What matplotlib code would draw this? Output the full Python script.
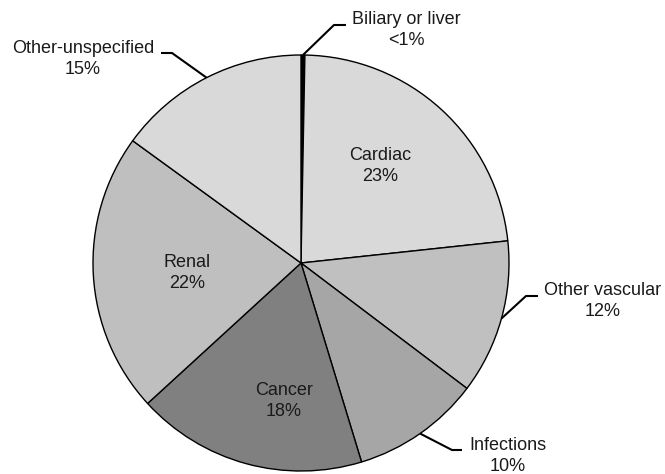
import numpy as np
import matplotlib.pyplot as plt

# Causes of death shares (%), clockwise from 12 o'clock
categories = ['Biliary or liver', 'Cardiac', 'Other vascular', 'Infections',
              'Cancer', 'Renal', 'Other-unspecified']
shares = [0.3, 23.0, 12.0, 10.0, 17.9, 21.8, 15.0]
pct_labels = ['<1%', '23%', '12%', '10%', '18%', '22%', '15%']
colors = ['#000000', '#d9d9d9', '#c0c0c0', '#a6a6a6', '#808080', '#bfbfbf', '#d9d9d9']

plt.rcParams['font.family'] = ['Liberation Sans', 'DejaVu Sans']

W, H = 665, 474


def px(x, y):
    # pixel position (top-left origin) -> data coords
    return x, H - y


fig = plt.figure(figsize=(W / 100, H / 100), dpi=100)
ax = fig.add_axes([0, 0, 1, 1])

cx, cy = px(301, 263)
r = 208
wedges, _ = ax.pie(shares, colors=colors, startangle=90, counterclock=False,
                   center=(cx, cy), radius=r,
                   wedgeprops=dict(edgecolor='black', linewidth=1))
ax.set_xlim(0, W)
ax.set_ylim(0, H)
ax.set_aspect('auto')
ax.axis('off')

fs = 13

# labels inside the big slices
inside = {1: (380, 166), 5: (187, 273), 4: (284, 401)}
for i, (x, y) in inside.items():
    ax.text(*px(x, y), categories[i] + '\n' + pct_labels[i], ha='center', va='center',
            fontsize=fs, color='#1a1a1a', linespacing=1.25)

# outside labels with leader lines: text center, elbow, stub end
outside = {
    0: ((406, 30), (334, 25), (346, 25)),
    6: ((83, 59), (172, 53), (161, 53)),
    2: ((603, 301), (526, 296), (538, 296)),
    3: ((508, 456), (452, 450), (462, 450)),
}
for i, (txt, elbow, stub) in outside.items():
    w = wedges[i]
    mid = np.deg2rad((w.theta1 + w.theta2) / 2)
    ex, ey = cx + r * np.cos(mid), cy + r * np.sin(mid)
    ax.plot([ex, px(*elbow)[0], px(*stub)[0]], [ey, px(*elbow)[1], px(*stub)[1]],
            color='black', lw=1.5, solid_capstyle='butt')
    ax.text(*px(*txt), categories[i] + '\n' + pct_labels[i], ha='center', va='center',
            fontsize=fs, color='#1a1a1a', linespacing=1.25)

plt.savefig('out.png', dpi=100)
